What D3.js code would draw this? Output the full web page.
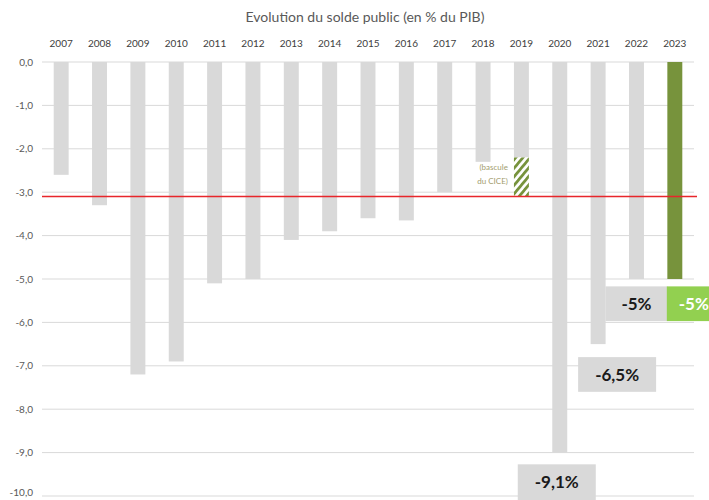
<!DOCTYPE html>
<html><head><meta charset="utf-8">
<script src="https://cdn.jsdelivr.net/npm/d3@7"></script>
<style>
html,body{margin:0;padding:0;background:#fff;overflow:hidden}
svg{display:block;font-family:Lato,"Open Sans",sans-serif}
</style></head>
<body>
<svg id="c" width="709" height="500"></svg>
<script>
const years = ["2007","2008","2009","2010","2011","2012","2013","2014","2015","2016","2017","2018","2019","2020","2021","2022","2023"];
const solde = [-2.6,-3.3,-7.2,-6.9,-5.1,-5.0,-4.1,-3.9,-3.6,-3.65,-3.0,-2.3,-2.2,-9.0,-6.5,-5.0,-5.0];
const highlightYear = "2023";
const cice = {year:"2019", from:-2.2, to:-3.1};
const seuil = -3.1;
const yTicks = [0,-1,-2,-3,-4,-5,-6,-7,-8,-9,-10];
const callouts = [
  {year:"2022", text:"-5%", top:-5.17, bottom:-5.97, kind:"gray"},
  {year:"2023", text:"-5%", top:-5.17, bottom:-5.97, kind:"green"},
  {year:"2021", text:"-6,5%", top:-6.8, bottom:-7.6, kind:"gray"},
  {year:"2020", text:"-9,1%", top:-9.27, bottom:-10.2, kind:"gray"}
];

const svg = d3.select("#c");
const x = d3.scaleBand().domain(years).range([42, 694]).paddingInner(0.61).paddingOuter(0.305);
const y = d3.scaleLinear().domain([0,-10]).range([62, 496]);

// defs hatch
const defs = svg.append("defs");
const pat = defs.append("pattern").attr("id","hatch").attr("patternUnits","userSpaceOnUse")
  .attr("width",5.5).attr("height",5.5).attr("patternTransform","rotate(40)");
pat.append("rect").attr("width",5.5).attr("height",5.5).attr("fill","#fff");
pat.append("rect").attr("width",2.8).attr("height",5.5).attr("fill","#77933c");

// title
svg.append("text").attr("x",365).attr("y",22).attr("text-anchor","middle")
  .attr("font-size",14).attr("fill","#595959").text("Evolution du solde public (en % du PIB)");

// grid
svg.append("g").selectAll("line").data(yTicks).join("line")
  .attr("x1",42).attr("x2",694).attr("y1",d=>y(d)).attr("y2",d=>y(d))
  .attr("stroke","#d9d9d9").attr("stroke-width",1);

// y labels
const fmt = d => d3.format(".1f")(d).replace(".",",").replace("−","-");
svg.append("g").selectAll("text").data(yTicks).join("text")
  .attr("x",33).attr("y",d=>Math.min(y(d),492)).attr("dy","0.35em").attr("text-anchor","end")
  .attr("font-size",10).attr("fill","#595959").text(fmt);

// x labels (top)
svg.append("g").selectAll("text").data(years).join("text")
  .attr("x",d=>x(d)+x.bandwidth()/2).attr("y",43).attr("dy","0.35em").attr("text-anchor","middle")
  .attr("font-size",10).attr("fill","#404040").text(d=>d);

// bars
svg.append("g").selectAll("rect").data(years).join("rect")
  .attr("x",d=>x(d)).attr("width",x.bandwidth())
  .attr("y",y(0)).attr("height",(d,i)=>y(solde[i])-y(0))
  .attr("fill",d=>d===highlightYear?"#77933c":"#d9d9d9");

// CICE hatch
svg.append("rect").attr("x",x(cice.year)).attr("width",x.bandwidth())
  .attr("y",y(cice.from)).attr("height",y(cice.to)-y(cice.from)).attr("fill","url(#hatch)");
const ann = svg.append("text").attr("text-anchor","end").attr("font-size",8).attr("fill","#a39d6e");
ann.append("tspan").attr("x",x(cice.year)-6).attr("y",y(cice.from)+13).text("(bascule");
ann.append("tspan").attr("x",x(cice.year)-6).attr("y",y(cice.from)+27).text("du CICE)");

// red line
svg.append("line").attr("x1",42).attr("x2",697).attr("y1",y(seuil)).attr("y2",y(seuil))
  .attr("stroke","#e8262b").attr("stroke-width",1.5);

// callouts
const offs = {"2022":{dx:0,w:62},"2023":{dx:23,w:62},"2021":{dx:19,w:78},"2020":{dx:-3,w:78}};
const cg = svg.append("g").selectAll("g").data(callouts).join("g");
cg.append("rect")
  .attr("x",d=>x(d.year)+x.bandwidth()/2+offs[d.year].dx-offs[d.year].w/2)
  .attr("width",d=>offs[d.year].w)
  .attr("y",d=>y(d.top)).attr("height",d=>y(d.bottom)-y(d.top))
  .attr("fill",d=>d.kind==="green"?"#92d050":"#d9d9d9");
cg.append("text")
  .attr("x",d=>x(d.year)+x.bandwidth()/2+offs[d.year].dx+(d.kind==="green"?-4:0))
  .attr("y",d=>(y(d.top)+Math.min(y(d.bottom),500))/2).attr("dy","0.36em")
  .attr("text-anchor","middle").attr("font-size",17).attr("font-weight","bold")
  .attr("fill",d=>d.kind==="green"?"#fff":"#1a1a1a").text(d=>d.text);
</script>
</body></html>
